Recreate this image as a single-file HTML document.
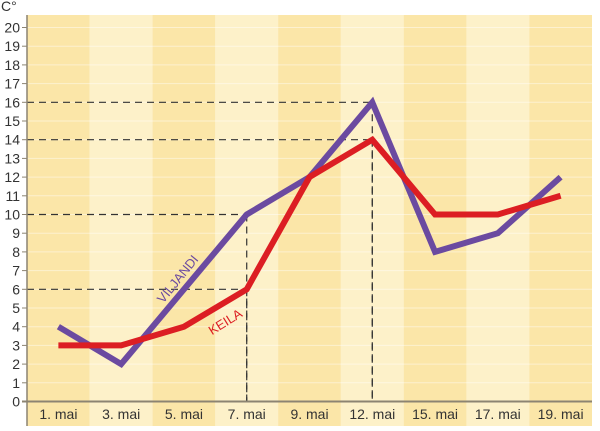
<!DOCTYPE html>
<html><head><meta charset="utf-8"><style>
body{margin:0;background:#fff}
svg text{font-family:"Liberation Sans",sans-serif;}
</style></head><body>
<svg width="600" height="426" viewBox="0 0 600 426" xmlns="http://www.w3.org/2000/svg">
<g id="bands"></g><g id="grid"></g><g id="guides"></g><g id="axes"></g><g id="lines"></g><g id="labels"></g>
<text x="1" y="11" font-size="14" fill="#333">C°</text>
</svg>
<script>
const categories=["1. mai","3. mai","5. mai","7. mai","9. mai","12. mai","15. mai","17. mai","19. mai"];
const viljandi=[4,2,6,10,12,16,8,9,12];
const keila=[3,3,4,6,12,14,10,10,11];
const yTicks=[0,1,2,3,4,5,6,7,8,9,10,11,12,13,14,15,16,17,18,19,20];
const guideIdx=[[3,10],[3,6],[5,16],[5,14]];
const NS="http://www.w3.org/2000/svg";
const L=27,R=592,T=15,B=426,Y0=401.5,U=18.7;
const cw=(R-L)/categories.length;
const x=i=>L+cw*(i+0.5);
const y=v=>Y0-v*U;
function mk(t,a,p){const e=document.createElementNS(NS,t);for(const k in a)e.setAttribute(k,a[k]);p.appendChild(e);return e;}
const bands=document.getElementById('bands');
categories.forEach((c,i)=>{const r=mk('rect',{x:L+cw*i,y:T,width:cw,height:B-T,fill:i%2?'#fdf1c9':'#fbe6a8'},bands);
});
const grid=document.getElementById('grid');
yTicks.forEach(v=>{if(v>0){const l=mk('line',{x1:L,x2:R,y1:y(v),y2:y(v),stroke:'#fff',"stroke-opacity":0.45,"stroke-width":1},grid);
}
const t=mk('text',{x:20,y:y(v)+5,"font-size":14,fill:'#333',"text-anchor":'end'},grid);t.textContent=v;

const tk=mk('line',{x1:L-5,x2:L,y1:y(v),y2:y(v),stroke:'#8c8472'},grid);});
const guides=document.getElementById('guides');
guideIdx.forEach(([i,v])=>{const d={stroke:'#333',"stroke-width":1.2,"stroke-dasharray":'7,5'};
const h=mk('line',Object.assign({x1:L,x2:x(i),y1:y(v),y2:y(v)},d),guides);
const vv=mk('line',Object.assign({x1:x(i),x2:x(i),y1:y(v),y2:y(0)},d),guides);});
const axes=document.getElementById('axes');
let a=mk('line',{x1:L,x2:L,y1:T,y2:B,stroke:'#8c8472',"stroke-width":1.5},axes);
a=mk('line',{x1:L-5,x2:R,y1:Y0,y2:Y0,stroke:'#8c8472',"stroke-width":2},axes);
categories.forEach((c,i)=>{const t=mk('text',{x:x(i),y:419,"font-size":14,fill:'#333',"text-anchor":'middle'},axes);t.textContent=c;
});
const lines=document.getElementById('lines');
function series(vals,col,name){const p=mk('polyline',{points:vals.map((v,i)=>x(i)+','+y(v)).join(' '),fill:'none',stroke:col,"stroke-width":6,"stroke-linejoin":'miter'},lines);
}
series(viljandi,'#6b4aa0','viljandi-line');
series(keila,'#dc1e23','keila-line');
const lab=document.getElementById('labels');
let t=mk('text',{x:0,y:0,"font-size":13,fill:'#6b4aa0',transform:`translate(${x(1)+42},${y(5)-4}) rotate(-51)`},lab);t.textContent='VILJANDI';

t=mk('text',{x:0,y:0,"font-size":13,fill:'#dc1e23',transform:`translate(${x(2)+28},${y(3)-10}) rotate(-32)`},lab);t.textContent='KEILA';

</script>
</body></html>
